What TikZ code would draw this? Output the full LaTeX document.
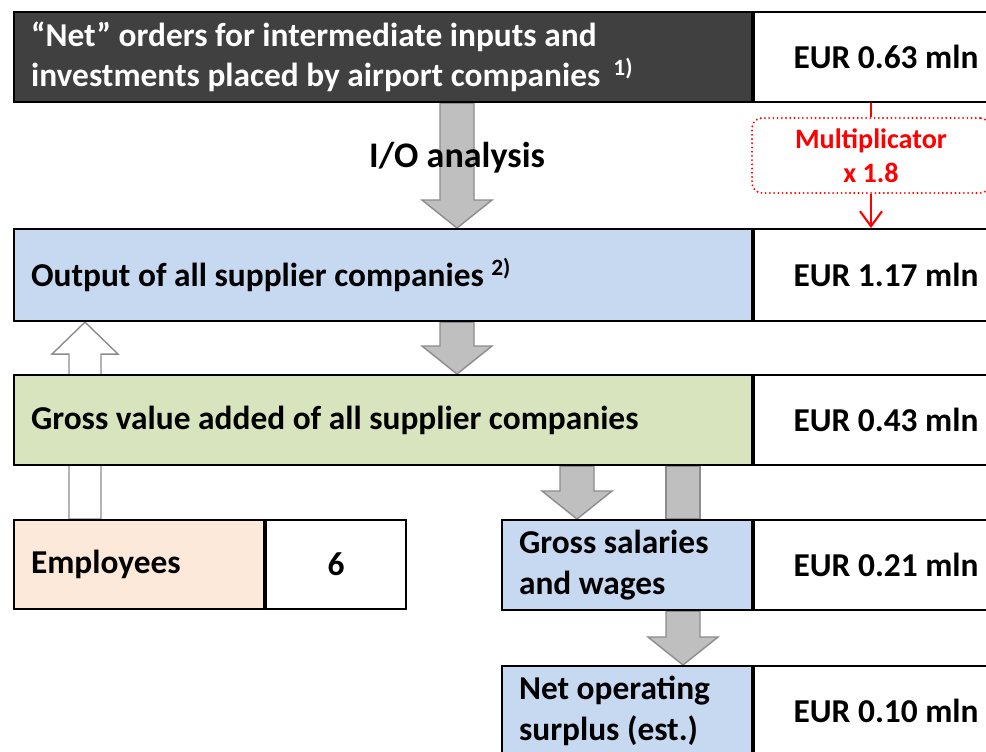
\documentclass[tikz,border=0pt]{standalone}
\usepackage{fontspec}
\setmainfont{Carlito}
\usetikzlibrary{positioning, arrows.meta, calc, backgrounds}

\definecolor{darkbox}{HTML}{404040}
\definecolor{bluebox}{HTML}{C6D9F1}
\definecolor{greenbox}{HTML}{D7E4BD}
\definecolor{peachbox}{HTML}{FDE9D9}
\definecolor{arrowfill}{HTML}{BFBFBF}
\definecolor{arrowline}{HTML}{8C8C8C}
\definecolor{multred}{HTML}{FF0000}

\begin{document}
\begin{tikzpicture}[
    x=0.02cm, y=-0.02cm,
    txt/.style={font=\fontsize{19}{23}\selectfont\bfseries},
    box/.style={rectangle, draw, line width=1.2pt, minimum height=1.8cm, inner xsep=0.34cm,
        align=left, text width=#1, anchor=north west, txt,
        execute at begin node={\spaceskip=0pt\xspaceskip=0pt}},
    valbox/.style={rectangle, draw, line width=1.2pt, fill=white, minimum height=1.8cm,
        minimum width=#1, align=center, inner sep=0pt, txt},
    valbox/.default=5.28cm,
    fatdown/.style={draw=arrowline, fill=arrowfill, line width=0.8pt,
        to path={let \p1=(\tikztostart), \p2=(\tikztotarget) in
            (\x1-0.34cm,\y1) -- (\x1-0.34cm,\y2+0.56cm) -- (\x1-0.7cm,\y2+0.56cm) -- (\x2,\y2)
            -- (\x1+0.7cm,\y2+0.56cm) -- (\x1+0.34cm,\y2+0.56cm) -- (\x1+0.34cm,\y1) -- cycle}},
    hollowup/.style={draw=arrowline, fill=white, line width=0.8pt,
        to path={let \p1=(\tikztostart), \p2=(\tikztotarget) in
            (\x1-0.32cm,\y1) -- (\x1-0.32cm,\y2-0.64cm) -- (\x1-0.66cm,\y2-0.64cm) -- (\x2,\y2)
            -- (\x1+0.66cm,\y2-0.64cm) -- (\x1+0.32cm,\y2-0.64cm) -- (\x1+0.32cm,\y1) -- cycle}},
    fatbar/.style={draw=arrowline, fill=arrowfill, line width=0.8pt,
        to path={let \p1=(\tikztostart), \p2=(\tikztotarget) in
            (\x1-0.34cm,\y1) rectangle (\x2+0.34cm,\y2)}},
    multbox/.style={rectangle, draw=multred, line width=1.2pt, line cap=round,
        dash pattern=on 0pt off 2.4pt, rounded corners=0.2cm, minimum width=4.76cm,
        minimum height=1.5cm, text=multred, align=center,
        font=\fontsize{16}{19.5}\selectfont\bfseries},
    redline/.style={draw=multred, line width=1.2pt}
]
\useasboundingbox (0,0) rectangle (986,751);
\clip (0,0) rectangle (986,751);

% axes of the block arrows
\coordinate (ioaxis) at (457,0);
\coordinate (empaxis) at (85,0);
\coordinate (salaxis) at (577,0);
\coordinate (surpaxis) at (683,0);

% Main flow
\node[box=14.08cm, fill=darkbox, text=white] (orders) at (13,11)
    {“Net” orders for intermediate inputs and\\investments placed by airport companies~\,\textsuperscript{1)}};
\node[valbox, right=0pt of orders] (ordersval) {EUR 0.63 mln};

\node[box=14.08cm, fill=bluebox, minimum height=1.84cm] (output) at (13,228)
    {Output of all supplier companies~\textsuperscript{2)}};
\node[valbox, minimum height=1.84cm, right=0pt of output] (outputval) {EUR 1.17 mln};

\node[box=14.08cm, fill=greenbox] (gva) at (13,374)
    {Gross value added of all supplier companies};
\node[valbox, right=0pt of gva] (gvaval) {EUR 0.43 mln};

% Employees
\node[box=4.32cm, fill=peachbox, minimum height=1.78cm] (employees) at (13,519) {Employees};
\node[valbox=2.8cm, minimum height=1.78cm, right=0pt of employees] (empval) {6};

% Salaries and surplus
\node[box=4.32cm, fill=bluebox] (salaries) at (501,519) {Gross salaries\\and wages};
\node[valbox, right=0pt of salaries] (salval) {EUR 0.21 mln};

\node[box=4.32cm, fill=bluebox] (surplus) at (501,665) {Net operating\\surplus (est.)};
\node[valbox, right=0pt of surplus] (surpval) {EUR 0.10 mln};

% Block arrows behind the boxes
\begin{scope}[on background layer]
\draw[fatdown] (orders.south -| ioaxis) to (output.north -| ioaxis);
\draw[fatdown] (output.south -| ioaxis) to (gva.north -| ioaxis);
\draw[hollowup] (employees.north -| empaxis) to (output.south -| empaxis);
\draw[fatdown] (gva.south -| salaxis) to (salaries.north -| salaxis);
\draw[fatbar] (gva.south -| surpaxis) to (salaries.north -| surpaxis);
\draw[fatdown] (salaries.south -| surpaxis) to (surplus.north -| surpaxis);
\end{scope}

\node[font=\fontsize{20.5}{24}\selectfont\bfseries] (io) at (457,158) {I/O analysis};

% Multiplier
\node[multbox] (mult) at (871,155.5) {Multiplicator\\x 1.8};
\draw[redline] (ordersval.south -| mult) -- (mult.north);
\draw[redline, -{Straight Barb[length=3mm, width=4.4mm]}] (mult.south) -- (outputval.north -| mult);

\end{tikzpicture}
\end{document}
